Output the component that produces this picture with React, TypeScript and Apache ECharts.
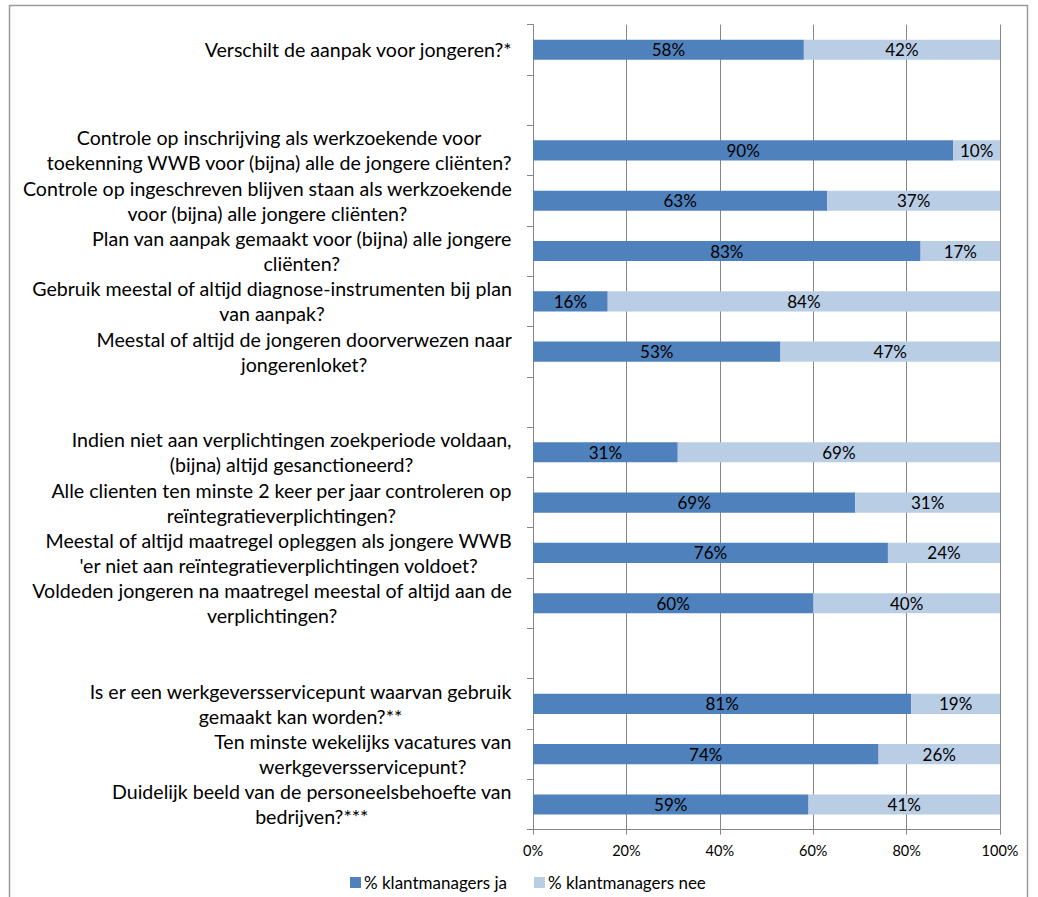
import React, { useEffect, useRef } from 'react';
import * as echarts from 'echarts';

const categories: string[] = [
  'Verschilt de aanpak voor jongeren?*',
  ' ',
  'Controle op inschrijving als werkzoekende voor\ntoekenning WWB voor (bijna) alle de jongere cliënten?',
  'Controle op ingeschreven blijven staan als werkzoekende\nvoor (bijna) alle jongere cliënten?',
  'Plan van aanpak gemaakt voor (bijna) alle jongere\ncliënten?',
  'Gebruik meestal of altijd diagnose-instrumenten bij plan\nvan aanpak?',
  'Meestal of altijd de jongeren doorverwezen naar\njongerenloket?',
  '  ',
  'Indien niet aan verplichtingen zoekperiode voldaan,\n(bijna) altijd gesanctioneerd?',
  'Alle clienten ten minste 2 keer per jaar controleren op\nreïntegratieverplichtingen?',
  "Meestal of altijd maatregel opleggen als jongere WWB\n'er niet aan reïntegratieverplichtingen voldoet?",
  'Voldeden jongeren na maatregel meestal of altijd aan de\nverplichtingen?',
  '   ',
  'Is er een werkgeversservicepunt waarvan gebruik\ngemaakt kan worden?**',
  'Ten minste wekelijks vacatures van\nwerkgeversservicepunt?',
  'Duidelijk beeld van de personeelsbehoefte van\nbedrijven?***',
];

const jaValues: (number | null)[] = [58, null, 90, 63, 83, 16, 53, null, 31, 69, 76, 60, null, 81, 74, 59];
const neeValues: (number | null)[] = [42, null, 10, 37, 17, 84, 47, null, 69, 31, 24, 40, null, 19, 26, 41];

const seriesNames = ['% klantmanagers ja', '% klantmanagers nee'];
const xMin = 0;
const xMax = 100;
const xStep = 20;

const FONT = 'Lato';

export default function App() {
  const ref = useRef<HTMLDivElement>(null);

  useEffect(() => {
    if (!ref.current) return;
    const chart = echarts.init(ref.current, undefined, { renderer: 'svg' });
    const barLabel = {
      show: true,
      position: 'inside',
      color: '#000',
      fontSize: 17,
      fontFamily: FONT,
      formatter: (p: any) => (p.value == null ? '' : `${p.value}%`),
    };
    chart.setOption({
      animation: false,
      textStyle: { fontFamily: FONT },
      grid: {
        left: 533,
        right: 38,
        top: 24.6,
        bottom: 67.4,
        containLabel: false,
        outerBoundsMode: 'none',
      },
      graphic: [
        {
          type: 'rect',
          silent: true,
          shape: { x: 9.5, y: 5.5, width: 1018, height: 900 },
          style: { fill: 'none', stroke: '#9a9a9a', lineWidth: 1.5 },
        },
      ],
      legend: {
        left: 345,
        top: 869,
        icon: 'rect',
        itemWidth: 11,
        itemHeight: 11,
        itemGap: 27,
        textStyle: { fontSize: 17, color: '#000', fontFamily: FONT, padding: [0, 0, 0, -2] },
        data: seriesNames,
      },
      xAxis: {
        type: 'value',
        min: xMin,
        max: xMax,
        interval: xStep,
        axisLine: { show: true, lineStyle: { color: '#868686', width: 1 } },
        axisTick: { show: true, length: 5, lineStyle: { color: '#868686' } },
        splitLine: { show: true, lineStyle: { color: '#868686', width: 1 } },
        axisLabel: {
          formatter: '{value}%',
          color: '#000',
          fontSize: 14.5,
          fontFamily: FONT,
          margin: 13,
        },
      },
      yAxis: {
        type: 'category',
        inverse: true,
        data: categories,
        axisLine: { show: true, lineStyle: { color: '#868686', width: 1 } },
        axisTick: { show: true, length: 6, lineStyle: { color: '#868686' } },
        splitLine: { show: false },
        axisLabel: {
          margin: 21,
          interval: 0,
          formatter: (v: string) => {
            const t = v.trim();
            if (!t) return '';
            return t
              .split('\n')
              .map((l) => `{c|${l}}`)
              .join('\n');
          },
          rich: {
            c: {
              align: 'center',
              fontSize: 19.6,
              lineHeight: 25,
              color: '#000',
              fontFamily: FONT,
            },
          },
        },
      },
      series: [
        {
          name: seriesNames[0],
          type: 'bar',
          stack: 'total',
          barWidth: '40%',
          data: jaValues,
          itemStyle: { color: '#4F81BD' },
          label: barLabel,
        },
        {
          name: seriesNames[1],
          type: 'bar',
          stack: 'total',
          barWidth: '40%',
          data: neeValues,
          itemStyle: { color: '#B9CDE5' },
          label: barLabel,
        },
      ],
    });
    return () => chart.dispose();
  }, []);

  return (
    <div
      ref={ref}
      style={{ position: 'absolute', left: 0, top: 0, width: 1038, height: 897, background: '#fff' }}
    />
  );
}
